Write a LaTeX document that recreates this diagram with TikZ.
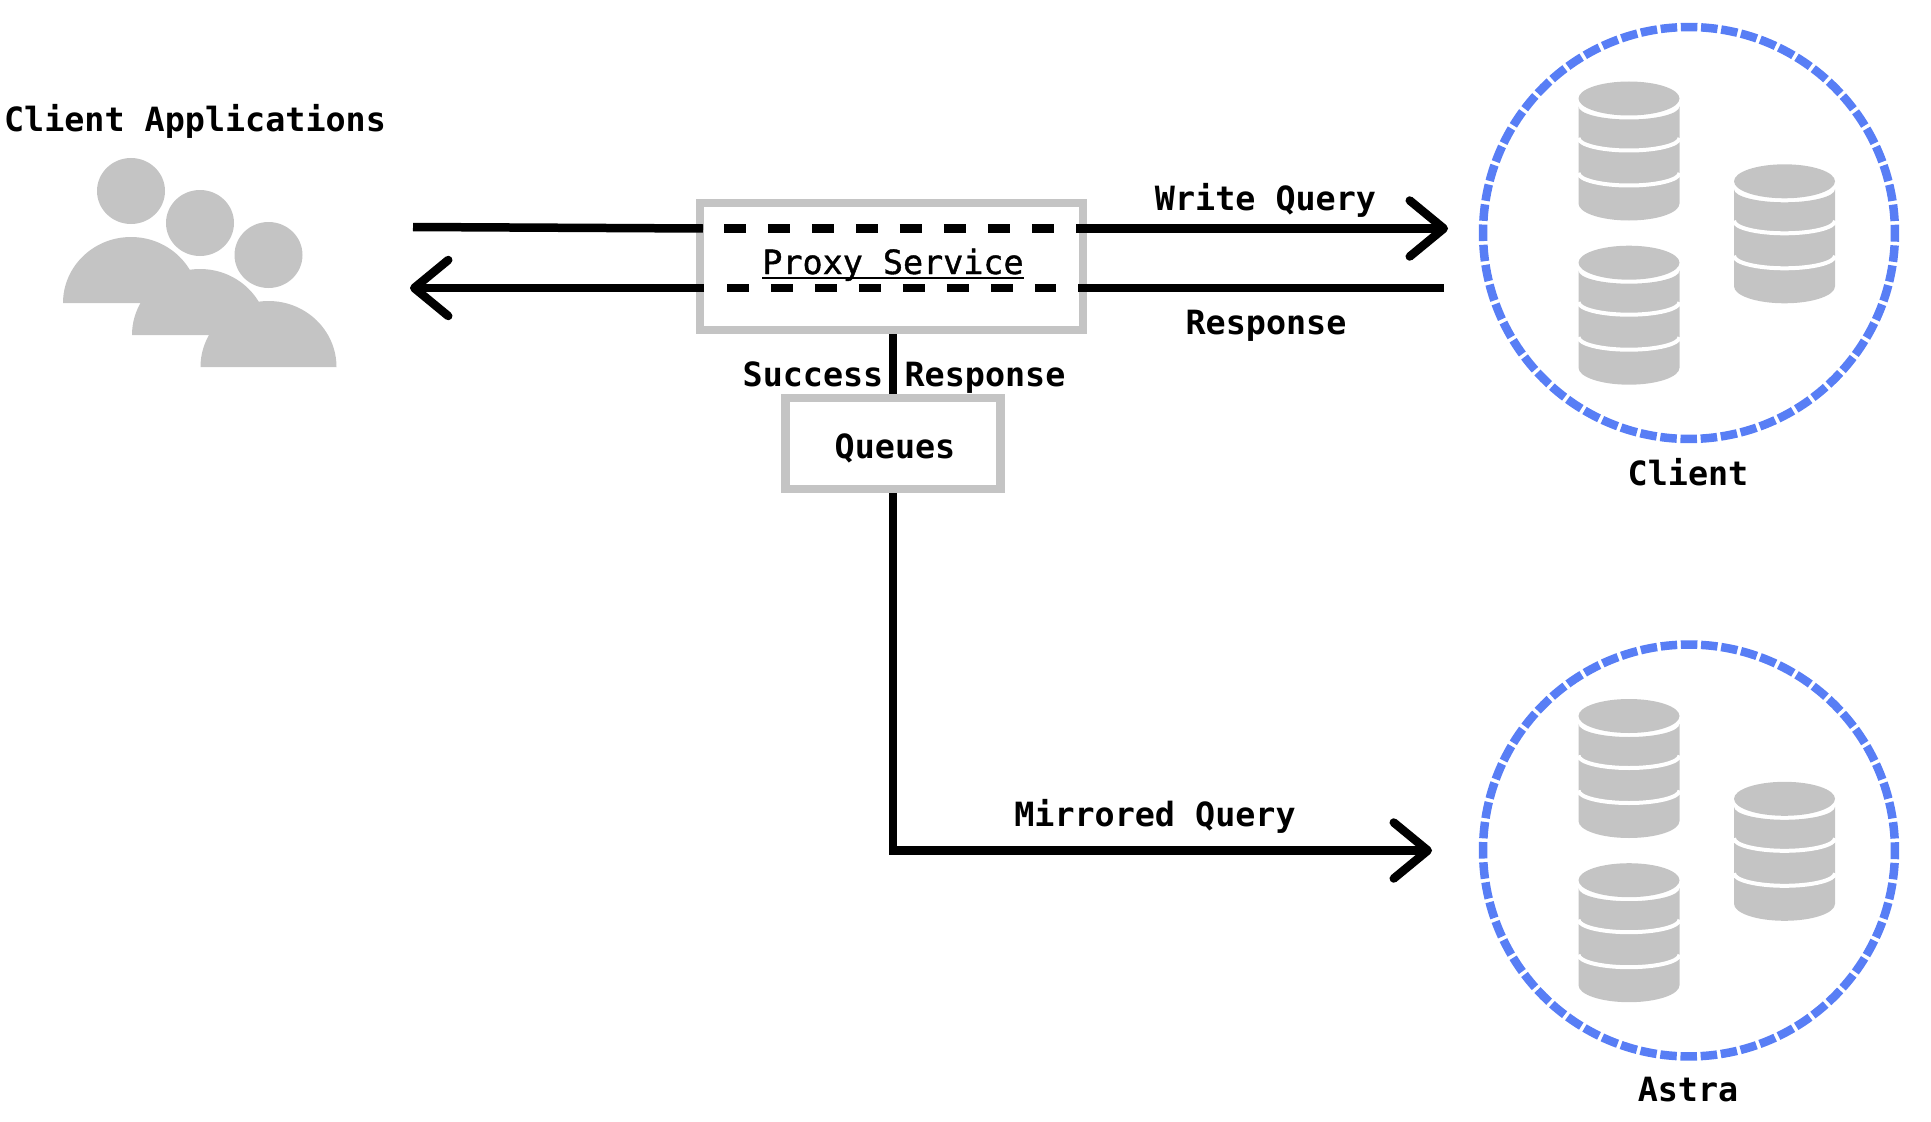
\documentclass[tikz,border=0pt]{standalone}
\usepackage{xcolor}
\usepackage{fontspec}
\usepackage{tikz}
\usetikzlibrary{arrows.meta}
\setmonofont{DejaVu Sans Mono}
\newfontfamily\medmono[FakeBold=1.2]{DejaVu Sans Mono}
\definecolor{stackgray}{HTML}{C4C4C4}
\definecolor{ringblue}{HTML}{587EF5}

\tikzset{
    txt/.style={inner sep=0pt, anchor=base, font=\fontsize{19}{22}\selectfont\ttfamily\bfseries},
    boxnode/.style={draw=stackgray, rectangle, line width=0.17cm},
    ring/.style={draw=ringblue, circle, line width=0.17cm, minimum size=8.24cm, dash pattern=on 0.33cm off 0.0744cm, dash phase=0.165cm},
    flow/.style={line width=0.17cm, black},
    softflow/.style={flow, preaction={draw, black!15, transform canvas={yshift=-0.05cm}}},
    flowdash/.style={flow, dash pattern=on 0.44cm off 0.44cm},
    tip/.style={-{Straight Barb[length=0.68cm, width=1.12cm, line width=0.17cm, round]}},
    person/.pic={
        \fill[stackgray] (0,0) ellipse (34 and 33);
        \fill[stackgray] (-68,-112) arc[start angle=180, end angle=0, x radius=68, y radius=66] -- cycle;
    },
    dbstack/.pic={
        \fill[stackgray] (0,0) ellipse (50.5 and 17);
        \fill[stackgray] (-50.5,-8) arc[start angle=180, end angle=360, x radius=50.5, y radius=13]
            -- (50.5,-105) arc[start angle=0, end angle=-180, x radius=50.5, y radius=17] -- cycle;
        \draw[white, line width=0.08cm] (-50.5,-39.5) arc[start angle=180, end angle=360, x radius=50.5, y radius=12.5];
        \draw[white, line width=0.08cm] (-50.5,-74.5) arc[start angle=180, end angle=360, x radius=50.5, y radius=12.5];
    }
}

\begin{document}
\begin{tikzpicture}[x=0.02cm, y=0.02cm]
    \useasboundingbox (0,0) rectangle (1931,-1122);

    % client applications
    \pic at (131,-191) {person};
    \pic at (200,-223) {person};
    \pic at (268.5,-255) {person};
    \node[txt] (apps) at (195,-131.5) {Client Applications};

    % boxes
    \node[boxnode, minimum width=7.66cm, minimum height=2.54cm] (proxy) at (891.5,-266.5) {};
    \node[boxnode, minimum width=4.3cm, minimum height=1.82cm] (queues) at (893,-443.5) {};
    \node[txt] (proxylabel) at (893,-274) {\mdseries\medmono Proxy Service};
    \node[txt] (queueslabel) at (895,-458) {Queues};
    \draw[line width=0.05cm] ([yshift=-0.08cm]proxylabel.base west) -- ([yshift=-0.08cm]proxylabel.base east);

    % clusters
    \node[ring] (clientring) at (1689,-233) {};
    \pic at (1629,-98.5) {dbstack};
    \pic at (1629,-262.7) {dbstack};
    \pic at (1784.5,-181.3) {dbstack};
    \node[txt] (clientlabel) at (1688,-485) {Client};

    \node[ring] (astraring) at (1689,-850.5) {};
    \pic at (1629,-716) {dbstack};
    \pic at (1629,-880.2) {dbstack};
    \pic at (1784.5,-798.8) {dbstack};
    \node[txt] (astralabel) at (1688,-1101) {Astra};

    % write path
    \coordinate (wstart) at (413,-227);
    \coordinate (wleft) at (703,-228.5);
    \coordinate (wdash1) at (724,-228.5);
    \coordinate (wdash2) at (1054,-228.5);
    \coordinate (wright) at (1076,-228.5);
    \coordinate (wend) at (1448,-228.5);
    \draw[softflow] (wstart) -- (wleft);
    \draw[flowdash] (wdash1) -- (wdash2);
    \draw[flow, tip] (wright) -- (wend);
    \node[txt] (writelabel) at (1265.5,-211) {Write Query};

    % response path
    \coordinate (rstart) at (1444,-288);
    \coordinate (rright) at (1078,-288);
    \coordinate (rdash2) at (1056,-288);
    \coordinate (rdash1) at (727,-288);
    \coordinate (rleft) at (704,-288);
    \coordinate (rend) at (410,-288);
    \draw[softflow] (rstart) -- (rright);
    \draw[flowdash] (rdash1) -- (rdash2);
    \draw[flow, tip] (rleft) -- (rend);
    \node[txt] (resplabel) at (1266,-334) {Response};

    % queue link
    \draw[flow] (proxy.south -| queues.north) -- (queues.north);
    \node[txt] (successlabel) at (813,-386) {Success};
    \node[txt] (responselabel) at (985,-386) {Response};

    % mirrored path
    \coordinate (mend) at (1432,-850.5);
    \draw[flow, tip] (queues.south) -- (queues.south |- mend) -- (mend);
    \node[txt] (mirrorlabel) at (1155,-826) {Mirrored Query};
\end{tikzpicture}
\end{document}
